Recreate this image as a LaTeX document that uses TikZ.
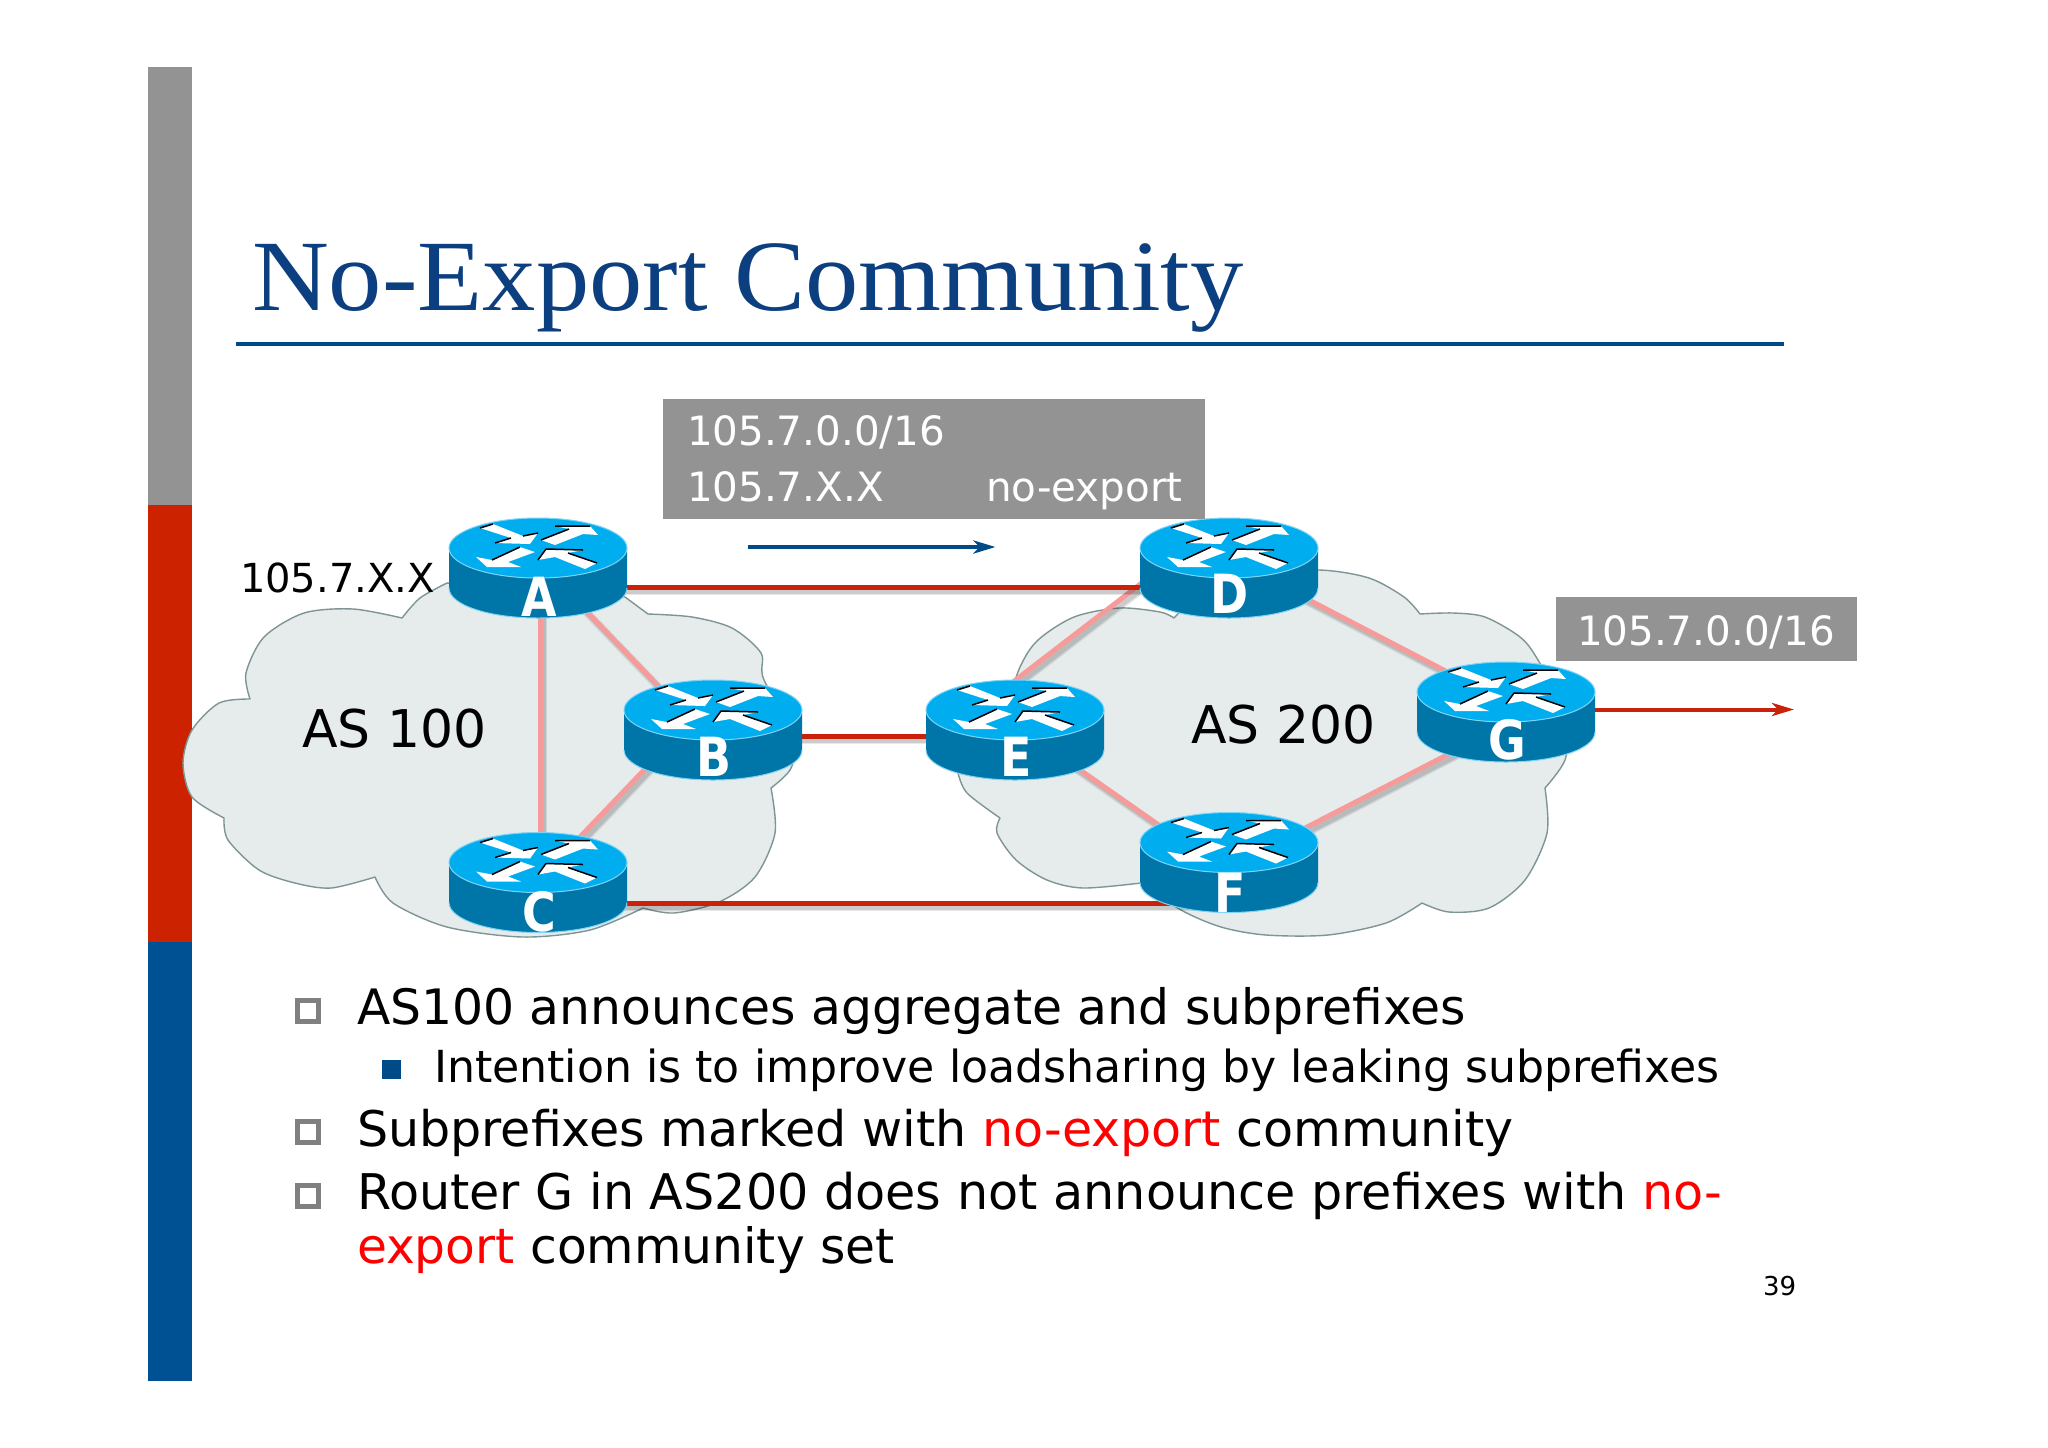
\documentclass[tikz,border=0pt]{standalone}
\usepackage{fontspec}
\setmainfont{DejaVu Sans}
\newfontfamily\titlefont{Liberation Serif}
\usetikzlibrary{arrows.meta}
\definecolor{barGray}{HTML}{939393}
\definecolor{barRed}{HTML}{CC2200}
\definecolor{barBlue}{HTML}{005094}
\definecolor{titleBlue}{HTML}{0B3F80}
\definecolor{ruleBlue}{HTML}{004B87}
\definecolor{cloudFill}{HTML}{E6EBEC}
\definecolor{cloudLine}{HTML}{7F9494}
\definecolor{linkRed}{HTML}{C9210A}
\definecolor{linkPink}{HTML}{F79A9A}
\definecolor{rtTop}{HTML}{00AEF0}
\definecolor{rtSide}{HTML}{0076A8}
\definecolor{rtEdge}{HTML}{7FD4F5}
\newcommand{\fs}[1]{\fontsize{#1}{#1}\selectfont}
\tikzset{
  txt/.style={anchor=base west,inner sep=0pt,outer sep=0pt},
  cloud/.style={fill=cloudFill,draw=cloudLine,line width=0.7pt,line join=round},
  rtbox/.style={minimum width=89pt,minimum height=50pt,inner sep=0pt,outer sep=0pt},
  shadowA/.style={draw=black,opacity=0.09,line width=4pt},
  shadowB/.style={draw=black,opacity=0.12,line width=2.5pt},
  rtarrow/.style={fill=white},
  rtink/.style={draw=black,line width=0.75pt},
  rletter/.style={anchor=base,inner sep=0pt,outer sep=0pt,text=white,font=\bfseries\fs{27},xscale=0.85},
  graybox/.style={fill=barGray,inner sep=0pt,outer sep=0pt,anchor=north west},
  hollow/.style={draw=gray,line width=2.3pt,fill=white,minimum size=10.5pt,inner sep=0pt,outer sep=0pt},
  solid/.style={fill=ruleBlue,minimum size=9.5pt,inner sep=0pt,outer sep=0pt},
  flow/.style={line width=2pt,-{Stealth[length=11pt,width=6.5pt,inset=3pt]}},
}
\newcommand{\lnk}[5]{%
  \path[shadowA] ([shift={(#3)},shift={(3,4)}]#2.center) -- ([shift={(#5)},shift={(3,4)}]#4.center);
  \path[shadowB] ([shift={(#3)},shift={(3,4)}]#2.center) -- ([shift={(#5)},shift={(3,4)}]#4.center);
  \draw[#1,line width=2.5pt] ([shift={(#3)}]#2.center) -- ([shift={(#5)}]#4.center);}
\newcommand{\router}[3]{% name, letter, baseline offset from centre
  \begin{scope}[shift={(#1.center)}]
    \fill[rtSide] (-89,-20) -- (-89,20) .. controls (-89,37) and (-49,50) .. (0,50) .. controls (49,50) and (89,37) .. (89,20) -- (89,-20) -- cycle;
    \draw[rtEdge,line width=0.5pt] (-89,20) .. controls (-89,37) and (-49,50) .. (0,50) .. controls (49,50) and (89,37) .. (89,20);
    \fill[rtTop,draw=rtEdge,line width=0.5pt] (0,-20) ellipse [x radius=89,y radius=30];
    \begin{scope}[shift={(0,-20)}]
      \fill[rtarrow] (-58,-20) -- (-45,-24) -- (-15,-12) -- (0,-15) -- (-8,-4) -- (-43,-5) -- (-27,-10) -- cycle;
      \fill[rtarrow] (3,-8) -- (17,-3) -- (45,-14) -- (60,-13) -- (52,-22) -- (17,-22) -- (31,-19) -- cycle;
      \fill[rtarrow] (-18,-1) -- (-3,4) -- (-30,14) -- (-17,19) -- (-51,19) -- (-62,9) -- (-46,12) -- cycle;
      \fill[rtarrow] (0,12) -- (8,1) -- (45,2) -- (30,5) -- (59,15) -- (47,21) -- (17,9) -- cycle;
      \draw[rtink] (-58,-20) -- (-45,-24) (-43,-5) -- (-27,-10) (-15,-12) -- (0,-15);
      \draw[rtink] (3,-8) -- (31,-19) (17,-22) -- (52,-22);
      \draw[rtink] (-18,-1) -- (-46,12);
      \draw[rtink] (0,12) -- (8,1) -- (45,2) (30,5) -- (59,15);
    \end{scope}
    \node[rletter] (#1-label) at (1,#3) {#2};
  \end{scope}}
\begin{document}
\begin{tikzpicture}[x=0.5pt,y=-0.5pt]
\useasboundingbox (0,0) rectangle (2048,1447);
\fill[white] (0,0) rectangle (2048,1447);
% side bars
\fill[barGray] (148,67) rectangle (192,505);
\fill[barRed] (148,505) rectangle (192,942);
\fill[barBlue] (148,942) rectangle (192,1381);
% title
\node[txt,text=titleBlue,xscale=1.055] (title) at (252,310) {\titlefont\fs{50.5}No-Export Community};
\coordinate (ruleL) at (236,344);
\coordinate (ruleR) at (1784,344);
\draw[ruleBlue,line width=1.6pt] (ruleL) -- (ruleR);
% clouds
\path[cloud] (250,699)
  plot[smooth] coordinates {(250,699) (219,703) (192,730) (183,763) (192,797) (224,818)}
  -- plot[smooth] coordinates {(224,818) (228,840) (259,870) (295,883) (331,888) (375,877)}
  -- plot[smooth] coordinates {(375,877) (393,903) (447,927) (523,937) (590,930) (643,908)}
  -- plot[smooth] coordinates {(643,908) (674,913) (719,902) (755,877) (775,833) (771,788)}
  -- plot[smooth] coordinates {(771,788) (790,770) (800,740)}
  -- plot[smooth] coordinates {(800,740) (764,680) (761,653) (732,628) (692,617) (648,614)}
  -- (625,597) -- (447,583)
  -- plot[smooth] coordinates {(447,583) (420,598) (402,618)}
  -- plot[smooth] coordinates {(402,618) (353,609) (304,613) (264,637) (246,673) (250,699)}
  -- cycle;
\path[cloud] (1174,618)
  plot[smooth] coordinates {(1174,618) (1160,612) (1119,608) (1074,617) (1038,640) (1020,667) (1000,720) (958,773)}
  -- plot[smooth] coordinates {(958,773) (967,793) (1000,818)}
  -- plot[smooth] coordinates {(1000,818) (997,833) (1016,860) (1047,880) (1083,888) (1141,883)}
  -- plot[smooth] coordinates {(1141,883) (1181,910) (1221,927) (1266,935) (1328,935) (1386,923) (1422,903)}
  -- plot[smooth] coordinates {(1422,903) (1449,912) (1489,908) (1525,880) (1547,833) (1545,788)}
  -- plot[smooth] coordinates {(1545,788) (1565,760) (1570,720)}
  -- plot[smooth] coordinates {(1570,720) (1538,660) (1520,637) (1485,617) (1453,613) (1420,614)}
  -- plot[smooth] coordinates {(1420,614) (1404,597) (1369,578) (1319,570) (1250,575) (1200,590)}
  -- (1174,618) -- cycle;
% router anchors
\node[rtbox] (A) at (538,568) {};
\node[rtbox] (B) at (713,730) {};
\node[rtbox] (C) at (538,882.5) {};
\node[rtbox] (D) at (1229,568) {};
\node[rtbox] (E) at (1015,730) {};
\node[rtbox] (F) at (1229,862.5) {};
\node[rtbox] (G) at (1506,712) {};
% links
\lnk{linkPink}{A}{2,0}{C}{2,0}
\lnk{linkPink}{A}{0,-7}{B}{2,15}
\lnk{linkPink}{C}{0,-1.5}{B}{-23,-8}
\lnk{linkPink}{E}{-15,-38}{D}{-69,1}
\lnk{linkPink}{D}{51,17}{G}{-26,-23}
\lnk{linkPink}{E}{45,26}{F}{-49,-22.5}
\lnk{linkPink}{F}{51,-21.5}{G}{-26,26}
\lnk{linkRed}{A}{0,19}{D}{0,19}
\lnk{linkRed}{B}{0,6}{E}{0,6}
\lnk{linkRed}{C}{0,20.5}{F}{0,40.5}
% outgoing arrows
\coordinate (redEnd) at (1794,709.5);
\draw[linkRed,flow] (G.center |- redEnd) -- (redEnd);
\coordinate (blueStart) at (747.5,547);
\coordinate (blueEnd) at (995.5,547);
\draw[ruleBlue,flow] (blueStart) -- (blueEnd);
% routers
\router{A}{A}{48}
\router{B}{B}{46}
\router{C}{C}{49}
\router{D}{D}{45}
\router{E}{E}{46}
\router{F}{F}{50}
\router{G}{G}{47}
% grey boxes
\node[graybox,minimum width=271pt,minimum height=60pt] (boxA) at (663,399) {};
\node[txt,text=white,font=\fs{20.2}] (boxA1) at (687,445) {105.7.0.0/16};
\node[txt,text=white,font=\fs{20.2}] (boxA2) at (687,501) {105.7.X.X};
\node[anchor=base east,inner sep=0pt,text=white,font=\fs{20.2}] (boxA3) at (1183,501) {no-export};
\node[graybox,minimum width=150.5pt,minimum height=32pt] (boxB) at (1556,597) {};
\node[txt,text=white,font=\fs{20.2}] (boxB1) at (1577,645) {105.7.0.0/16};
% labels
\node[txt,font=\fs{20}] (prefix) at (240,592) {105.7.X.X};
\node[txt,font=\fs{26}] (as100) at (302,747) {AS 100};
\node[txt,font=\fs{26}] (as200) at (1191,743) {AS 200};
% bullets
\node[hollow] (b1) at (308,1011) {};
\node[solid] (b2) at (391.5,1069) {};
\node[hollow] (b3) at (308,1132) {};
\node[hollow] (b4) at (308,1196) {};
\node[txt,font=\fs{24.4}] (t1) at (357,1024) {AS100 announces aggregate and subprefixes};
\node[txt,font=\fs{22.1}] (t2) at (434,1082) {Intention is to improve loadsharing by leaking subprefixes};
\node[txt,font=\fs{24.55}] (t3) at (357,1146) {Subprefixes marked with \textcolor{red}{no-export} community};
\node[txt,font=\fs{24.6}] (t4) at (357,1209) {Router G in AS200 does not announce prefixes with \textcolor{red}{no-}};
\node[txt,font=\fs{24.35}] (t5) at (357,1263) {\textcolor{red}{export} community set};
\node[txt,font=\fs{13}] (page) at (1763,1295) {39};
\end{tikzpicture}
\end{document}
